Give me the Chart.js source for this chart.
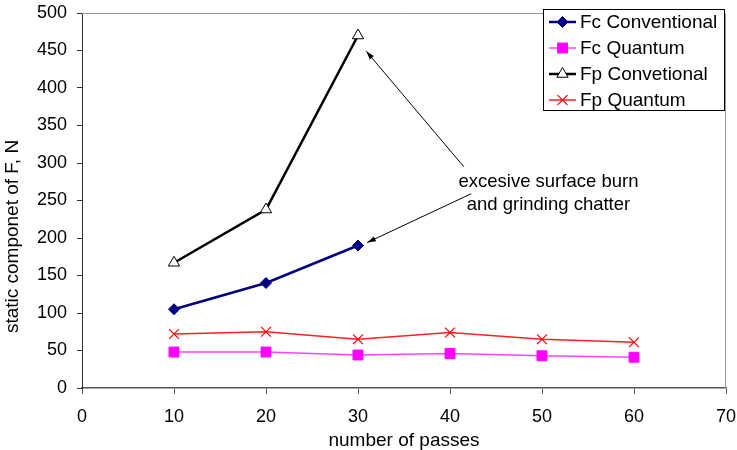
<!DOCTYPE html>
<html>
<head>
<meta charset="utf-8">
<script src="https://cdn.jsdelivr.net/npm/chart.js@4.4.1/dist/chart.umd.min.js"></script>
<style>
  html, body { margin: 0; padding: 0; background: #fff; }
  #wrap { width: 737px; height: 450px; position: relative; }
</style>
</head>
<body>
<div id="wrap"><canvas id="c"></canvas></div>
<script>
let passes = [10, 20, 30, 40, 50, 60];
let fcConventional = [105, 140, 190];
let fcQuantum = [48, 48, 44, 46, 43, 41];
let fpConvetional = [167, 238, 470];
let fpQuantum = [72, 75, 65, 74, 65, 61];

let toPoints = (vals) => vals.map((v, i) => ({ x: passes[i], y: v }));

let FONT = "'Liberation Sans', Arial, sans-serif";

// frame, y title, custom legend and the annotation text with arrows
let extras = {
  id: "extras",
  afterDraw(chart) {
    let ctx = chart.ctx;
    let a = chart.chartArea;
    let xs = chart.scales.x, ys = chart.scales.y;
    ctx.save();
    ctx.strokeStyle = "#9a9a9a";
    ctx.lineWidth = 1;
    ctx.beginPath();
    ctx.moveTo(a.left, a.top + 0.5);
    ctx.lineTo(a.right - 0.5, a.top + 0.5);
    ctx.lineTo(a.right - 0.5, a.bottom);
    ctx.stroke();

    // y axis title, sits a bit below the axis middle in the original
    ctx.save();
    ctx.translate(13, ys.getPixelForValue(202));
    ctx.rotate(-Math.PI / 2);
    ctx.fillStyle = "#000";
    ctx.font = "19px " + FONT;
    ctx.textAlign = "center";
    ctx.textBaseline = "middle";
    ctx.fillText("static componet of F, N", 0, 0);
    ctx.restore();

    // annotation
    ctx.fillStyle = "#000";
    ctx.font = "18.5px " + FONT;
    ctx.textAlign = "center";
    ctx.textBaseline = "middle";
    let tx = xs.getPixelForValue(50.7);
    ctx.fillText("excesive surface burn", tx, ys.getPixelForValue(275));
    ctx.fillText("and grinding chatter", tx, ys.getPixelForValue(244));

    let arrow = (x1, y1, x2, y2) => {
      let px1 = xs.getPixelForValue(x1), py1 = ys.getPixelForValue(y1);
      let px2 = xs.getPixelForValue(x2), py2 = ys.getPixelForValue(y2);
      ctx.strokeStyle = "#000";
      ctx.lineWidth = 1;
      ctx.beginPath();
      ctx.moveTo(px1, py1);
      ctx.lineTo(px2, py2);
      ctx.stroke();
      let ang = Math.atan2(py2 - py1, px2 - px1);
      ctx.beginPath();
      ctx.moveTo(px2, py2);
      ctx.lineTo(px2 - 9 * Math.cos(ang - 0.3), py2 - 9 * Math.sin(ang - 0.3));
      ctx.lineTo(px2 - 9 * Math.cos(ang + 0.3), py2 - 9 * Math.sin(ang + 0.3));
      ctx.closePath();
      ctx.fillStyle = "#000";
      ctx.fill();
    };
    arrow(41.5, 295, 30.9, 449);
    arrow(42.3, 259, 31, 194);

    // legend
    let lx = 543, ly = 9, lw = 181, lh = 101;
    ctx.fillStyle = "#fff";
    ctx.fillRect(lx, ly, lw, lh);
    ctx.strokeStyle = "#000";
    ctx.lineWidth = 1;
    ctx.strokeRect(lx + 0.5, ly + 0.5, lw, lh);
    ctx.textAlign = "left";
    ctx.font = "19px " + FONT;
    chart.data.datasets.forEach((ds, i) => {
      let y = ly + 13 + i * 26;
      ctx.strokeStyle = ds.borderColor;
      ctx.lineWidth = ds.borderWidth;
      ctx.beginPath();
      ctx.moveTo(lx + 6, y);
      ctx.lineTo(lx + 33, y);
      ctx.stroke();
      ctx.fillStyle = ds.pointBackgroundColor;
      ctx.strokeStyle = ds.pointBorderColor;
      ctx.lineWidth = ds.pointBorderWidth;
      Chart.helpers.drawPoint(ctx, {
        pointStyle: ds.pointStyle,
        radius: ds.pointRadius,
        borderWidth: ds.pointBorderWidth,
      }, lx + 19.5, y);
      ctx.fillStyle = "#000";
      ctx.fillText(ds.label, lx + 37, y + 1);
    });
    ctx.restore();
  },
};

let ctx = document.querySelector("#c");
let chart = new Chart(ctx, {
  type: "line",
  data: {
    datasets: [
      {
        label: "Fc Conventional",
        data: toPoints(fcConventional),
        borderColor: "#000080",
        backgroundColor: "#000080",
        pointBackgroundColor: "#000080",
        pointBorderColor: "#000080",
        borderWidth: 2.5,
        pointStyle: "rectRot",
        pointRadius: 5.5,
        pointBorderWidth: 1,
      },
      {
        label: "Fc Quantum",
        data: toPoints(fcQuantum),
        borderColor: "#ff44ff",
        backgroundColor: "#ff00ff",
        pointBackgroundColor: "#ff00ff",
        pointBorderColor: "#ff00ff",
        borderWidth: 1.5,
        pointStyle: "rect",
        pointRadius: 7,
        pointBorderWidth: 1,
      },
      {
        label: "Fp Convetional",
        data: toPoints(fpConvetional),
        borderColor: "#000",
        backgroundColor: "#fff",
        pointBackgroundColor: "#fff",
        pointBorderColor: "#000",
        borderWidth: 2.5,
        pointStyle: "triangle",
        pointRadius: 6.5,
        pointBorderWidth: 1,
      },
      {
        label: "Fp Quantum",
        data: toPoints(fpQuantum),
        borderColor: "#ff2020",
        backgroundColor: "#ff0000",
        pointBackgroundColor: "#ff0000",
        pointBorderColor: "#ff0000",
        borderWidth: 1.5,
        pointStyle: "crossRot",
        pointRadius: 7,
        pointBorderWidth: 1.2,
      },
    ],
  },
  options: {
    responsive: true,
    maintainAspectRatio: false,
    animation: false,
    layout: { padding: { top: 13, right: 11, left: 0, bottom: 0 } },
    plugins: {
      legend: { display: false },
      tooltip: { enabled: false },
    },
    scales: {
      x: {
        type: "linear",
        min: 0,
        max: 70,
        ticks: {
          stepSize: 10,
          color: "#000",
          padding: 12,
          font: { family: FONT, size: 18 },
        },
        grid: { drawOnChartArea: false, tickLength: 6, color: "#555" },
        border: { color: "#555", width: 1.5 },
        title: {
          display: true,
          text: "number of passes",
          color: "#000",
          padding: { top: 0, bottom: 0 },
          font: { family: FONT, size: 19, lineHeight: 1 },
        },
        afterFit(scale) {
          scale.height = 62;
          scale.paddingLeft = 0;
          scale.paddingRight = 0;
        },
      },
      y: {
        min: 0,
        max: 500,
        ticks: {
          stepSize: 50,
          color: "#000",
          padding: 10,
          font: { family: FONT, size: 18 },
        },
        grid: { drawOnChartArea: false, tickLength: 5, color: "#333" },
        border: { color: "#333", width: 1 },
        afterFit(scale) {
          scale.width = 82;
          scale.paddingTop = 0;
          scale.paddingBottom = 0;
        },
      },
    },
  },
  plugins: [extras],
});
</script>
</body>
</html>
